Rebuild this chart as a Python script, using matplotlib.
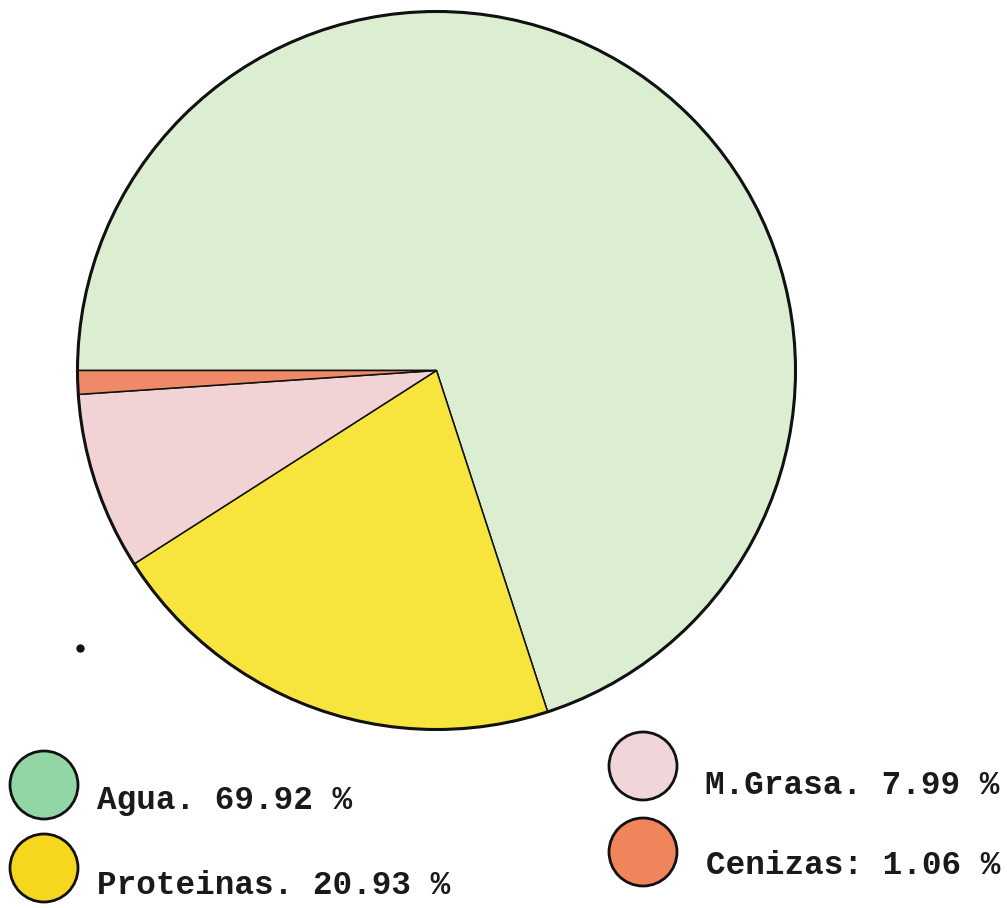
import matplotlib
matplotlib.use("Agg")
import matplotlib.pyplot as plt
from matplotlib.patches import Circle

# Composition (%)
labels = ["Agua", "Proteinas", "M.Grasa", "Cenizas"]
values = [69.92, 20.93, 7.99, 1.06]
separators = [".", ".", ".", ":"]
pie_colors = ["#dbeed1", "#f7e43c", "#f1d3d6", "#ee8a68"]
key_colors = ["#92d6a6", "#f5d81e", "#f0d5d9", "#f0845a"]

W, H = 1007, 908
fig = plt.figure(figsize=(W / 100, H / 100), dpi=100)
ax = fig.add_axes([0, 0, 1, 1])

cx, cy, r = 436.5, H - 370.5, 359

ax.pie(values, colors=pie_colors, startangle=180, counterclock=False,
       center=(cx, cy), radius=r, frame=True,
       wedgeprops=dict(edgecolor="#111111", linewidth=1.1))
ax.add_patch(Circle((cx, cy), r, fill=False, edgecolor="#111111", lw=2.2, zorder=5))

# stray ink dot
ax.plot([80], [H - 648], marker="o", ms=5, color="#111111")

# key: coloured discs with typed labels
key_pos = [(44, 785, 97, 800), (44, 868, 97, 885),
           (643, 766, 705, 785), (643, 852, 706, 866)]
for (px, py, tx, ty), lab, val, sep, col in zip(key_pos, labels, values, separators, key_colors):
    ax.add_patch(Circle((px, H - py), 34, facecolor=col, edgecolor="#111111", lw=2.0, zorder=5))
    ax.text(tx, H - ty, f"{lab}{sep} {val:.2f} %", fontsize=23.5,
            family="Liberation Mono", fontweight="bold", color="#1a1a1a",
            ha="left", va="center")

ax.set_xlim(0, W)
ax.set_ylim(0, H)
ax.set_aspect("equal")
ax.axis("off")
fig.savefig("out.png", dpi=100, facecolor="white")
